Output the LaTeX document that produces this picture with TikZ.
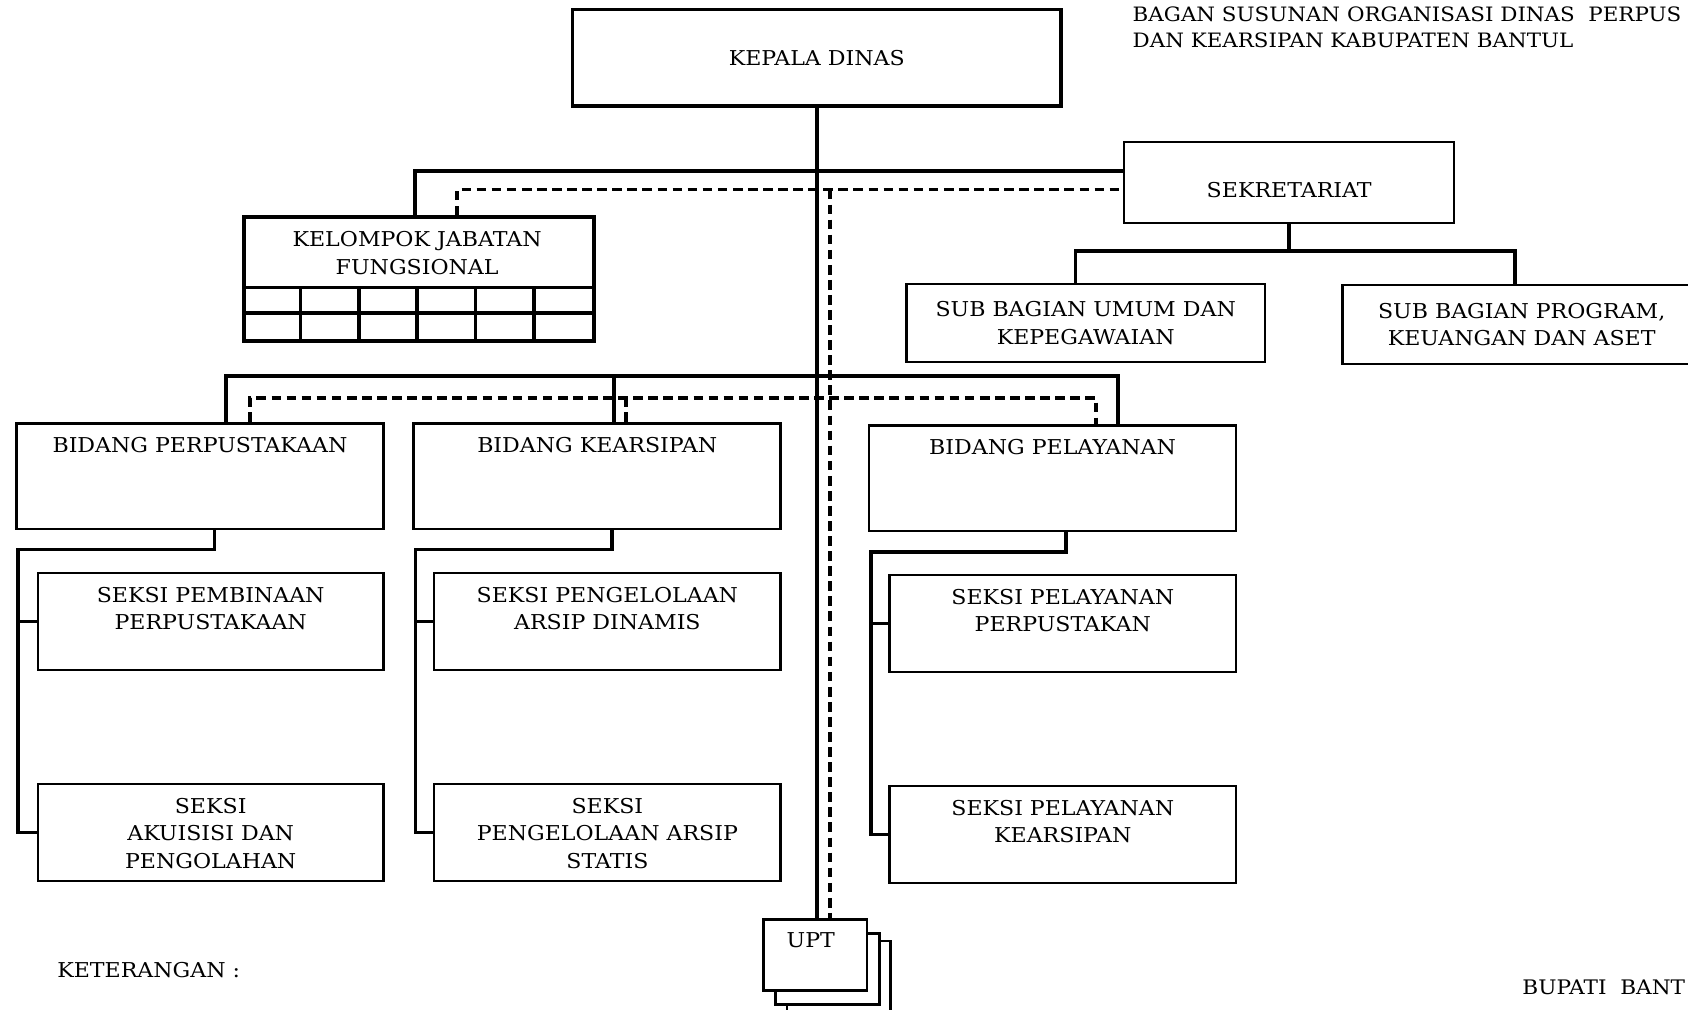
\documentclass[tikz,border=0pt]{standalone}
\usepackage{fontspec}
\setmainfont[FakeStretch=1.08]{DejaVu Serif}

\begin{document}
\begin{tikzpicture}[x=1pt, y=-1pt,
  font=\fontsize{19}{25.5}\selectfont,
  box/.style={draw, line width=2.4pt, anchor=north west, inner sep=0pt, align=center},
  txt/.style={align=center, inner sep=0pt},
  conn/.style={line width=3.5pt},
  dashconn/.style={line width=3.5pt, dash pattern=on 9pt off 5pt}]
  \useasboundingbox (0,0) rectangle (1568,938);
  \clip (0,0) rectangle (1568,938);

  % --- Kepala Dinas ---
  \node[box, line width=3.5pt, minimum width=454pt, minimum height=90pt] (kadin) at (530,7) {KEPALA DINAS};

  % --- Sekretariat ---
  \node[box, line width=2pt, minimum width=307pt, minimum height=75pt, text height=28pt] (sekr) at (1043,131) {SEKRETARIAT};
  \node[box, line width=2pt, minimum width=333pt, minimum height=72pt] (subumum) at (841,263) {SUB BAGIAN UMUM DAN\\KEPEGAWAIAN};
  \node[box, line width=2pt, minimum width=333pt, minimum height=73pt] (subprog) at (1246,264) {SUB BAGIAN PROGRAM,\\KEUANGAN DAN ASET};

  % --- Kelompok Jabatan Fungsional ---
  \node[box, line width=3.5pt, minimum width=325pt, minimum height=115pt] (kjf) at (225,200) {};
  \node[txt] (kjft) at (387.5,235) {KELOMPOK JABATAN\\FUNGSIONAL};
  \draw[line width=3.5pt] (225,267) -- (550,267) (225,291) -- (550,291);
  \foreach \i in {1,...,5} {
    \draw[line width=3.5pt] (225+\i*54.17,267) -- (225+\i*54.17,315);
  }

  % --- Bidang ---
  \node[box, minimum width=341pt, minimum height=98pt] (bperp) at (14,392) {};
  \node[txt, anchor=north] (bperpt) at ([yshift=-14pt]bperp.north) {BIDANG PERPUSTAKAAN};
  \node[box, minimum width=341pt, minimum height=98pt] (bkear) at (383,392) {};
  \node[txt, anchor=north] (bkeart) at ([yshift=-14pt]bkear.north) {BIDANG KEARSIPAN};
  \node[box, minimum width=341pt, minimum height=98pt] (bpel) at (806,394) {};
  \node[txt, anchor=north] (bpelt) at ([yshift=-14pt]bpel.north) {BIDANG PELAYANAN};

  % --- Seksi ---
  \node[box, minimum width=321pt, minimum height=90pt] (sbina) at (34,531) {};
  \node[txt, anchor=north] (sbinat) at ([yshift=-14pt]sbina.north) {SEKSI PEMBINAAN\\PERPUSTAKAAN};
  \node[box, minimum width=321pt, minimum height=90pt] (sakuis) at (34,727) {};
  \node[txt, anchor=north] (sakuist) at ([yshift=-14pt]sakuis.north) {SEKSI\\AKUISISI DAN\\PENGOLAHAN};
  \node[box, minimum width=322pt, minimum height=90pt] (sdinamis) at (402,531) {};
  \node[txt, anchor=north] (sdinamist) at ([yshift=-14pt]sdinamis.north) {SEKSI PENGELOLAAN\\ARSIP DINAMIS};
  \node[box, minimum width=322pt, minimum height=90pt] (sstatis) at (402,727) {};
  \node[txt, anchor=north] (sstatist) at ([yshift=-14pt]sstatis.north) {SEKSI\\PENGELOLAAN ARSIP\\STATIS};
  \node[box, minimum width=322pt, minimum height=90pt] (spelperp) at (825,533) {};
  \node[txt, anchor=north] (spelperpt) at ([yshift=-14pt]spelperp.north) {SEKSI PELAYANAN\\PERPUSTAKAN};
  \node[box, minimum width=322pt, minimum height=90pt] (spelkear) at (825,729) {};
  \node[txt, anchor=north] (spelkeart) at ([yshift=-14pt]spelkear.north) {SEKSI PELAYANAN\\KEARSIPAN};

  % --- UPT (stacked) ---
  \node[box, fill=white, minimum width=96pt, minimum height=66pt] (upt3) at (730,873) {};
  \node[box, fill=white, minimum width=97pt, minimum height=66pt] (upt2) at (719,866) {};
  \node[box, fill=white, minimum width=96pt, minimum height=66pt] (upt) at (708,853) {};
  \node[txt, anchor=north] (uptt) at ([xshift=-4pt, yshift=-13pt]upt.north) {UPT};

  % --- Garis komando ---
  \draw[conn] (kadin.south) -- (kadin.south |- upt.north);
  \draw[conn] ([xshift=-3.5pt]kjf.north) |- ([yshift=-28pt]sekr.north west);
  \draw[conn] (sekr.south) -- ++(0,25) coordinate (sbus);
  \draw[conn] ([xshift=-9.5pt]subumum.north) |- (sbus) -| ([xshift=-6.5pt]subprog.north);
  \coordinate (mbus) at (758,349);
  \draw[conn] ([xshift=24.5pt]bperp.north) |- (mbus) -| ([xshift=60.5pt]bpel.north);
  \draw[conn] ([xshift=15.5pt]bkear.north) -- ([xshift=15.5pt]bkear.north |- mbus);

  % --- Garis koordinasi (dashed) ---
  \draw[dashconn] ([xshift=35.5pt]kjf.north) |- ([yshift=-45pt]sekr.north west);
  \coordinate (dtop) at (771,176);
  \draw[dashconn] (dtop) -- (dtop |- upt.north);
  \coordinate (dbus) at (771,370);
  \draw[dashconn] ([xshift=46.5pt]bperp.north) |- (dbus) -| ([xshift=40.5pt]bpel.north);
  \draw[dashconn] ([xshift=26.5pt]bkear.north) -- ([xshift=26.5pt]bkear.north |- dbus);

  % --- Bidang ke seksi ---
  \draw[conn] ([xshift=13.5pt]bperp.south) -- ++(0,18) -| ([xshift=-17pt]sakuis.west) -- (sakuis.west);
  \draw[conn] ([xshift=-17pt]sbina.west) -- (sbina.west);
  \draw[conn] ([xshift=13.5pt]bkear.south) -- ++(0,18) -| ([xshift=-16pt]sstatis.west) -- (sstatis.west);
  \draw[conn] ([xshift=-16pt]sdinamis.west) -- (sdinamis.west);
  \draw[conn] ([xshift=12.5pt]bpel.south) -- ++(0,18) -| ([xshift=-16pt]spelkear.west) -- (spelkear.west);
  \draw[conn] ([xshift=-16pt]spelperp.west) -- (spelperp.west);

  % --- Teks lepas ---
  \node[anchor=north west, align=left, inner sep=0pt, font=\fontsize{18.4}{24}\selectfont] (judul) at (1052,6) {BAGAN SUSUNAN ORGANISASI DINAS\ \ PERPUS\\DAN KEARSIPAN KABUPATEN BANTUL};
  \node[anchor=west, inner sep=0pt] (ket) at (53,901) {KETERANGAN :};
  \node[anchor=west, inner sep=0pt, font=\fontsize{18.6}{24}\selectfont] (bupati) at (1414,917) {BUPATI\ \ BANT};
\end{tikzpicture}
\end{document}
